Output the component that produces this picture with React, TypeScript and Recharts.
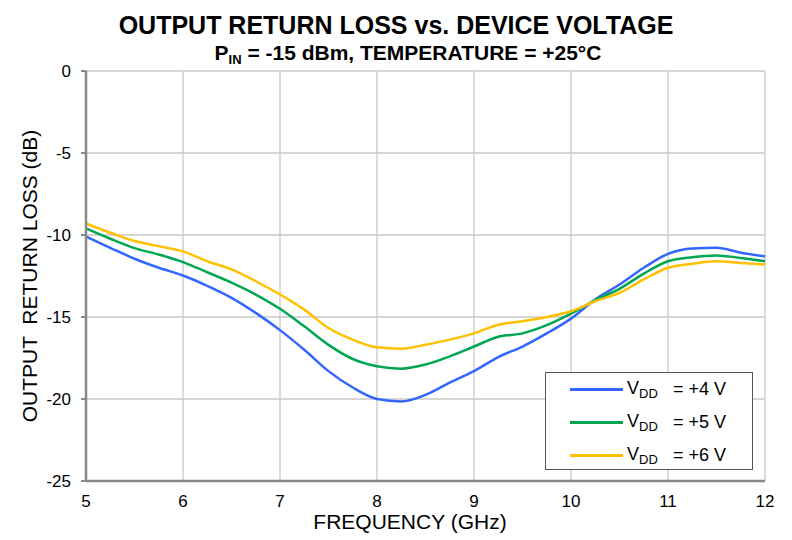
import React from "react";
import { CartesianGrid, Line, LineChart, XAxis, YAxis } from "recharts";

const freqGHz = [
  5, 5.25, 5.5, 5.75, 6, 6.25, 6.5, 6.75, 7, 7.25, 7.5, 7.75, 8, 8.25, 8.5, 8.75, 9, 9.25, 9.5, 9.75, 10, 10.25,
  10.5, 10.75, 11, 11.25, 11.5, 11.75, 12,
];
const vdd4 = [
  -10.1, -10.78, -11.45, -12.0, -12.47, -13.1, -13.83, -14.75, -15.8, -17.0, -18.3, -19.3, -20.0, -20.15, -19.75,
  -19.0, -18.3, -17.44, -16.8, -16.0, -15.1, -13.93, -13.02, -12.0, -11.15, -10.82, -10.78, -11.08, -11.3,
];
const vdd5 = [
  -9.6, -10.23, -10.8, -11.19, -11.65, -12.27, -12.9, -13.63, -14.5, -15.57, -16.7, -17.56, -18.0, -18.15, -17.9,
  -17.4, -16.8, -16.2, -16.0, -15.5, -14.8, -13.97, -13.28, -12.35, -11.6, -11.35, -11.25, -11.4, -11.6,
];
const vdd6 = [
  -9.3, -9.86, -10.37, -10.68, -11.0, -11.6, -12.1, -12.82, -13.63, -14.55, -15.67, -16.38, -16.85, -16.93, -16.69,
  -16.38, -16.0, -15.47, -15.26, -15.0, -14.65, -14.04, -13.53, -12.71, -12.0, -11.75, -11.6, -11.7, -11.8,
];
const xTicks = [5, 6, 7, 8, 9, 10, 11, 12];
const yTicks = [0, -5, -10, -15, -20, -25];
const seriesNames = ["+4 V", "+5 V", "+6 V"];
const seriesColors = ["#3366ff", "#00a651", "#ffc000"];

const data = freqGHz.map((f, i) => ({ f, v4: vdd4[i], v5: vdd5[i], v6: vdd6[i] }));

const font = "'Liberation Sans', Arial, sans-serif";

function LegendBox() {
  return (
    <div
      style={{
        position: "absolute",
        left: 545,
        top: 372,
        border: "1.5px solid #555",
        background: "#fff",
        width: 208,
        height: 98,
        boxSizing: "border-box",
        padding: "0 0 0 24px",
        fontSize: 18,
        color: "#000",
      }}
    >
      {seriesNames.map((name, i) => (
        <div key={name} style={{ display: "flex", alignItems: "center", height: 33 }}>
          <div style={{ width: 53, height: 3, background: seriesColors[i], marginRight: 4 }} />
          <span style={{ width: 46, whiteSpace: "nowrap" }}>
            V<sub style={{ fontSize: 13, verticalAlign: -4 }}>DD</sub>
          </span>
          <span>= {name}</span>
        </div>
      ))}
    </div>
  );
}

export default function App() {
  return (
    <div style={{ position: "fixed", left: 0, top: 0, width: 792, height: 540, background: "#fff", fontFamily: font }}>
      <div
        style={{
          position: "absolute",
          left: 0,
          width: 792,
          top: 10,
          textAlign: "center",
          fontWeight: "bold",
          fontSize: 25,
          lineHeight: "30px",
        }}
      >
        OUTPUT RETURN LOSS vs. DEVICE VOLTAGE
      </div>
      <div
        style={{
          position: "absolute",
          left: 0,
          width: 816,
          top: 41,
          textAlign: "center",
          fontWeight: "bold",
          fontSize: 21,
          lineHeight: "24px",
        }}
      >
        P<sub style={{ fontSize: 13, verticalAlign: -4 }}>IN</sub> = -15 dBm, TEMPERATURE = +25°C
      </div>
      <LineChart width={792} height={540} data={data} margin={{ top: 71, right: 27, left: 0, bottom: 0 }}>
        <CartesianGrid stroke="#c8c8c8" strokeWidth={1.3} />
        <XAxis
          dataKey="f"
          type="number"
          domain={[5, 12]}
          ticks={xTicks}
          height={59}
          axisLine={{ stroke: "#888", strokeWidth: 2.5 }}
          tickLine={false}
          tick={{ fill: "#000", fontSize: 17, fontFamily: font }}
          tickMargin={8}
        />
        <YAxis
          type="number"
          domain={[-25, 0]}
          ticks={yTicks}
          width={86}
          interval={0}
          axisLine={{ stroke: "#888", strokeWidth: 2.5 }}
          tickLine={{ stroke: "#888", strokeWidth: 2 }}
          tickSize={5}
          tick={{ fill: "#000", fontSize: 17, fontFamily: font }}
          tickMargin={10}
        />
        <XAxis xAxisId="top" orientation="top" dataKey="f" type="number" domain={[5, 12]} height={0} tick={false} tickLine={false} axisLine={{ stroke: "#888", strokeWidth: 2.5 }} />
        <YAxis yAxisId="right" orientation="right" domain={[-25, 0]} width={0} tick={false} tickLine={false} axisLine={{ stroke: "#888", strokeWidth: 2.5 }} />
        <Line dataKey="v4" stroke={seriesColors[0]} strokeWidth={2.5} dot={false} type="monotone" isAnimationActive={false} />
        <Line dataKey="v5" stroke={seriesColors[1]} strokeWidth={2.5} dot={false} type="monotone" isAnimationActive={false} />
        <Line dataKey="v6" stroke={seriesColors[2]} strokeWidth={2.5} dot={false} type="monotone" isAnimationActive={false} />
      </LineChart>
      <div
        style={{
          position: "absolute",
          left: 210,
          width: 400,
          top: 509,
          textAlign: "center",
          fontSize: 21,
          lineHeight: "26px",
        }}
      >
        FREQUENCY (GHz)
      </div>
      <div
        style={{
          position: "absolute",
          left: 30 - 200,
          top: 276 - 13,
          width: 400,
          height: 26,
          lineHeight: "26px",
          textAlign: "center",
          fontSize: 21,
          whiteSpace: "pre",
          transform: "rotate(-90deg)",
        }}
      >
        {"OUTPUT  RETURN LOSS (dB)"}
      </div>
      <LegendBox />
    </div>
  );
}
